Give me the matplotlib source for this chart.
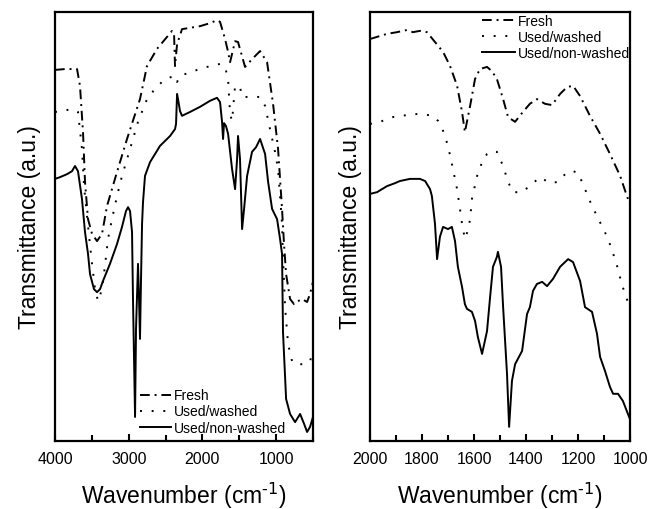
import matplotlib
matplotlib.use("Agg")
import matplotlib.pyplot as plt
from matplotlib.ticker import MultipleLocator

plt.rcParams['font.family'] = ['Liberation Sans', 'DejaVu Sans']
plt.rcParams['mathtext.default'] = 'regular'

# ---------------- Left panel (4000-500 cm-1) ----------------
left_fresh_wn = [4000, 3864, 3701, 3661, 3620, 3593, 3552, 3498, 3430, 3362, 3294, 3159, 3023,
                 2847, 2752, 2616, 2412, 2385, 2372, 2344, 2277, 2032, 1897, 1802, 1761, 1693,
                 1652, 1625, 1557, 1517, 1422, 1327, 1218, 1123, 1042, 974, 920, 893, 865, 811,
                 757, 703, 648, 580, 540, 500]
left_fresh_t = [86.5, 86.7, 86.7, 82.8, 72.0, 60.4, 51.7, 48.3, 46.6, 48.3, 54.8, 62.7, 70.4,
                79.7, 87.4, 91.4, 95.6, 94.9, 87.4, 92.5, 96.0, 96.7, 97.4, 98.1, 97.7, 93.7,
                90.7, 88.3, 93.2, 93.0, 87.2, 89.0, 90.9, 88.3, 78.6, 68.1, 54.1, 45.9, 38.9, 33.1,
                31.9, 32.6, 33.1, 32.4, 34.3, 37.1]

left_washed_wn = [4000, 3905, 3769, 3688, 3634, 3606, 3552, 3498, 3457, 3416, 3362, 3321, 3281,
                  3227, 3159, 3091, 3023, 2942, 2874, 2752, 2643, 2507, 2372, 2344, 2304, 2127,
                  1937, 1761, 1693, 1652, 1625, 1598, 1557, 1490, 1462, 1354, 1218, 1150, 1083,
                  1015, 974, 947, 920, 907, 879, 838, 784, 743, 608, 540, 500]
left_washed_t = [76.7, 76.9, 77.4, 76.7, 68.1, 59.4, 50.1, 41.3, 35.4, 32.6, 35.4, 41.0, 47.1,
                 51.7, 57.1, 61.8, 65.7, 70.4, 74.4, 79.7, 82.1, 84.4, 85.1, 83.7, 85.1, 86.2,
                 87.2, 87.9, 87.2, 84.4, 76.2, 74.6, 82.8, 82.5, 80.2, 80.2, 80.2, 78.1, 72.7,
                 67.4, 63.4, 57.1, 50.6, 42.9, 31.2, 22.6, 18.6, 17.9, 17.9, 18.6, 21.0]

left_nonwashed_wn = [4000, 3932, 3837, 3769, 3729, 3688, 3634, 3593, 3552, 3525, 3471, 3430, 3389,
                     3349, 3254, 3159, 3091, 3037, 3009, 2982, 2955, 2942, 2914, 2901, 2874, 2860,
                     2847, 2833, 2819, 2806, 2779, 2711, 2575, 2439, 2372, 2358, 2344, 2331, 2304,
                     2277, 2168, 2032, 1897, 1802, 1761, 1734, 1720, 1707, 1680, 1652, 1598, 1557,
                     1530, 1517, 1490, 1462, 1435, 1394, 1327, 1272, 1218, 1150, 1109, 1055, 987,
                     947, 920, 907, 865, 811, 743, 675, 621, 580, 540, 500]
left_nonwashed_t = [61.1, 61.5, 62.2, 62.9, 64.1, 62.9, 56.4, 48.7, 43.6, 38.9, 35.4, 34.7, 35.4,
                    37.3, 41.3, 45.9, 49.9, 53.6, 54.5, 53.6, 48.7, 33.1, 5.6, 26.1, 41.3, 33.1,
                    23.8, 37.8, 50.6, 55.7, 61.8, 65.0, 68.8, 71.1, 72.7, 73.9, 80.9, 79.7, 76.9,
                    75.8, 76.7, 77.9, 79.3, 80.0, 79.0, 74.4, 70.4, 74.1, 73.4, 71.6, 63.4, 58.7,
                    65.7, 71.1, 65.7, 49.4, 54.1, 61.8, 67.4, 68.5, 70.4, 66.9, 60.4, 54.1, 51.7,
                    47.1, 43.6, 25.4, 9.8, 6.3, 4.4, 6.3, 4.0, 2.1, 3.3, 5.6]

# ---------------- Right panel (2000-1000 cm-1) ----------------
right_fresh_wn = [2000, 1973, 1935, 1896, 1858, 1835, 1808, 1781, 1750, 1719, 1692, 1665, 1646,
                  1635, 1615, 1596, 1577, 1550, 1531, 1512, 1488, 1469, 1442, 1412, 1385, 1358,
                  1327, 1300, 1269, 1242, 1219, 1192, 1154, 1115, 1077, 1038, 1012, 1000]
right_fresh_t = [93.7, 94.2, 94.9, 95.3, 95.8, 95.3, 95.6, 95.3, 93.0, 90.7, 87.4, 82.8, 76.7,
                 72.0, 78.1, 84.4, 86.7, 87.2, 86.2, 84.4, 79.7, 75.5, 74.4, 76.7, 78.6, 79.7,
                 78.6, 78.3, 80.9, 82.5, 82.8, 80.4, 75.8, 71.6, 66.9, 61.8, 57.1, 55.2]

right_washed_wn = [2000, 1962, 1912, 1877, 1835, 1800, 1758, 1738, 1719, 1700, 1681, 1665, 1654,
                   1646, 1635, 1623, 1615, 1608, 1588, 1569, 1550, 1531, 1512, 1488, 1469, 1450,
                   1415, 1377, 1346, 1308, 1277, 1242, 1219, 1200, 1181, 1154, 1127, 1108, 1088,
                   1073, 1058, 1046, 1035, 1023, 1008, 1000]
right_washed_t = [73.9, 74.4, 75.5, 75.8, 76.2, 76.2, 75.8, 74.6, 72.3, 68.8, 63.4, 58.7, 54.1,
                  50.6, 47.1, 49.2, 51.7, 56.4, 61.8, 65.0, 66.9, 67.6, 67.4, 64.1, 60.4, 58.0,
                  58.0, 59.9, 61.5, 60.1, 60.4, 62.7, 62.9, 62.5, 59.9, 55.9, 52.4, 50.1, 47.6,
                  45.2, 42.4, 40.1, 37.3, 35.0, 32.4, 30.8]

right_nonwashed_wn = [2000, 1973, 1935, 1904, 1885, 1846, 1808, 1788, 1769, 1762, 1750, 1742, 1731,
                      1719, 1700, 1685, 1673, 1662, 1646, 1635, 1627, 1608, 1596, 1585, 1569, 1550,
                      1538, 1527, 1512, 1508, 1496, 1488, 1473, 1465, 1454, 1442, 1415, 1396, 1385,
                      1373, 1358, 1338, 1319, 1296, 1269, 1238, 1219, 1192, 1173, 1146, 1127, 1115,
                      1096, 1077, 1065, 1046, 1027, 1008, 1000]
right_nonwashed_t = [57.6, 58.0, 59.4, 60.1, 60.6, 61.1, 61.1, 60.6, 58.7, 57.1, 50.6, 42.4, 47.6,
                     49.9, 49.4, 49.9, 46.6, 40.6, 35.9, 31.9, 30.8, 30.1, 28.0, 24.2, 20.3, 25.6,
                     33.6, 40.6, 42.9, 44.1, 40.6, 31.2, 15.6, 3.3, 14.0, 17.9, 21.0, 29.6, 31.2,
                     35.0, 36.6, 37.1, 36.1, 37.8, 40.6, 42.4, 41.7, 37.3, 31.2, 30.1, 25.0, 19.6,
                     16.3, 12.6, 11.0, 11.0, 9.3, 6.3, 5.1]

labels = ["Fresh", "Used/washed", "Used/non-washed"]
xlabel = r"Wavenumber (cm$^{\text{-1}}$)"
ylabel = "Transmittance (a.u.)"

fig = plt.figure(figsize=(6.52, 5.10), dpi=100)
axL = fig.add_axes([55/652, 1-442/510, 258/652, 429/510])
axR = fig.add_axes([370/652, 1-442/510, 260/652, 429/510])

dashdot = (0, (5, 2.5, 1, 2.5))
dotted = (0, (1, 5))
lw = 1.4

for ax, data, xl, major, minor, ylpad in [
    (axL, [(left_fresh_wn, left_fresh_t), (left_washed_wn, left_washed_t),
           (left_nonwashed_wn, left_nonwashed_t)], (4000, 500), 1000, 500, 10),
    (axR, [(right_fresh_wn, right_fresh_t), (right_washed_wn, right_washed_t),
           (right_nonwashed_wn, right_nonwashed_t)], (2000, 1000), 200, 100, 6),
]:
    styles = [dashdot, dotted, '-']
    for (wn, t), ls, lab in zip(data, styles, labels):
        ax.plot(wn, t, color='black', linestyle=ls, linewidth=lw, label=lab)
    ax.set_xlim(*xl)
    ax.set_ylim(0, 100)
    ax.xaxis.set_major_locator(MultipleLocator(major))
    ax.xaxis.set_minor_locator(MultipleLocator(minor))
    ax.set_yticks([])
    ax.tick_params(axis='x', which='both', direction='in', top=False, labelsize=11.5,
                   width=1.5, pad=7)
    ax.tick_params(axis='x', which='major', length=5)
    ax.tick_params(axis='x', which='minor', length=4)
    for s in ax.spines.values():
        s.set_linewidth(1.6)
    ax.set_xlabel(xlabel, fontsize=16.5, labelpad=10)
    ax.set_ylabel(ylabel, fontsize=16.5, labelpad=ylpad)

axL.legend(loc='lower left', bbox_to_anchor=(0.33, 0.015), frameon=False, fontsize=10,
           handlelength=2.2, handletextpad=0.25, labelspacing=0.15, borderpad=0, borderaxespad=0)
axR.legend(loc='upper left', bbox_to_anchor=(0.43, 0.995), frameon=False, fontsize=10,
           handlelength=2.4, handletextpad=0.2, labelspacing=0.15, borderpad=0, borderaxespad=0)

fig.savefig("out.png", dpi=100)
